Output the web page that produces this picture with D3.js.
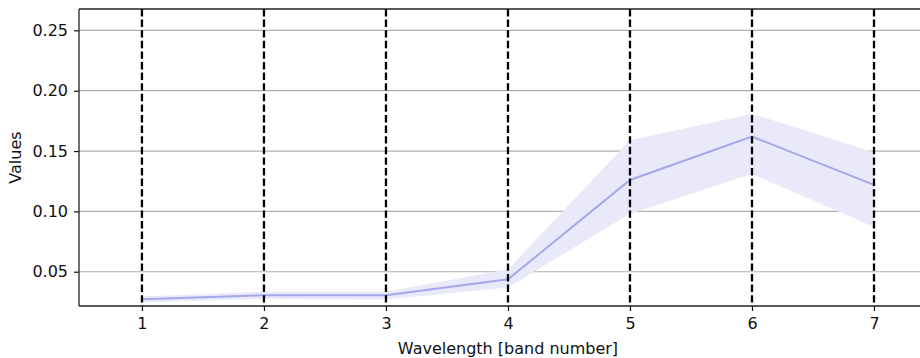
<!DOCTYPE html>
<html>
<head>
<meta charset="utf-8">
<script src="https://cdn.jsdelivr.net/npm/d3@7"></script>
<style>
  body { margin: 0; background: #fff; }
  svg { display: block; font-family: "DejaVu Sans", sans-serif; }
</style>
</head>
<body>
<div id="chart"></div>
<script>
// band numbers and per-band statistics
var bands = [1, 2, 3, 4, 5, 6, 7];
var meanVals = [0.0271, 0.0305, 0.0305, 0.0437, 0.126, 0.162, 0.122];
var upperVals = [0.0295, 0.0335, 0.0335, 0.0520, 0.159, 0.181, 0.149];
var lowerVals = [0.0245, 0.0275, 0.0270, 0.0370, 0.098, 0.131, 0.087];
var yTicks = [0.05, 0.10, 0.15, 0.20, 0.25];

var width = 920, height = 358;
var margin = {left: 79, top: 9, bottom: 52};
var plotRight = 935; // axes continue past the window edge

var svg = d3.select('#chart').append('svg')
    .attr('width', width)
    .attr('height', height);

var x = d3.scaleLinear().domain([0.484, 7.5]).range([margin.left, plotRight]);
var y = d3.scaleLinear().domain([0.0216, 0.2677]).range([height - margin.bottom, margin.top]);

var rows = bands.map(function(b, i) {
    return {band: b, mean: meanVals[i], hi: upperVals[i], lo: lowerVals[i]};
});

// horizontal grid
svg.append('g').selectAll('line')
    .data(yTicks).enter().append('line')
    .attr('x1', margin.left).attr('x2', plotRight)
    .attr('y1', function(d) { return y(d); })
    .attr('y2', function(d) { return y(d); })
    .attr('stroke', '#b0b0b0')
    .attr('stroke-width', 1.2);

// spread band
var area = d3.area()
    .x(function(d) { return x(d.band); })
    .y0(function(d) { return y(d.lo); })
    .y1(function(d) { return y(d.hi); });

svg.append('path')
    .datum(rows)
    .attr('d', area)
    .attr('fill', '#e9e9fa');

// mean line
var line = d3.line()
    .x(function(d) { return x(d.band); })
    .y(function(d) { return y(d.mean); });

svg.append('path')
    .datum(rows)
    .attr('d', line)
    .attr('fill', 'none')
    .attr('stroke', '#a6a6ec')
    .attr('stroke-width', 2);

// dashed band markers
svg.append('g').selectAll('line')
    .data(bands).enter().append('line')
    .attr('x1', function(d) { return x(d); })
    .attr('x2', function(d) { return x(d); })
    .attr('y1', margin.top)
    .attr('y2', height - margin.bottom)
    .attr('stroke', '#000')
    .attr('stroke-width', 2.3)
    .attr('stroke-dasharray', '7.4,3.2');

// axes
var xAxis = svg.append('g')
    .attr('transform', 'translate(0,' + (height - margin.bottom) + ')')
    .call(d3.axisBottom(x).tickValues(bands).tickSize(5).tickPadding(7).tickFormat(d3.format('d')));

var yAxis = svg.append('g')
    .attr('transform', 'translate(' + margin.left + ',0)')
    .call(d3.axisLeft(y).tickValues(yTicks).tickSize(5).tickPadding(6).tickFormat(d3.format('.2f')));

[xAxis, yAxis].forEach(function(g) {
    g.select('.domain').remove();
    g.selectAll('.tick line').attr('stroke', '#111').attr('stroke-width', 1.2);
    g.selectAll('.tick text')
        .attr('fill', '#111')
        .style('font-size', '16px')
        .style('font-family', '"DejaVu Sans", sans-serif');
});

// frame (left, top, bottom spines)
var spine = svg.append('g').attr('stroke', '#222').attr('stroke-width', 1.3).attr('fill', 'none');
spine.append('line').attr('x1', margin.left).attr('x2', margin.left)
    .attr('y1', margin.top).attr('y2', height - margin.bottom);
spine.append('line').attr('x1', margin.left).attr('x2', plotRight)
    .attr('y1', margin.top).attr('y2', margin.top);
spine.append('line').attr('x1', margin.left).attr('x2', plotRight)
    .attr('y1', height - margin.bottom).attr('y2', height - margin.bottom);

// labels
svg.append('text')
    .attr('x', x(4))
    .attr('y', 354)
    .attr('text-anchor', 'middle')
    .attr('fill', '#111')
    .style('font-size', '16px')
    .text('Wavelength [band number]');

svg.append('text')
    .attr('transform', 'translate(21,' + ((margin.top + height - margin.bottom) / 2) + ') rotate(-90)')
    .attr('text-anchor', 'middle')
    .attr('fill', '#111')
    .style('font-size', '16px')
    .text('Values');
</script>
</body>
</html>
